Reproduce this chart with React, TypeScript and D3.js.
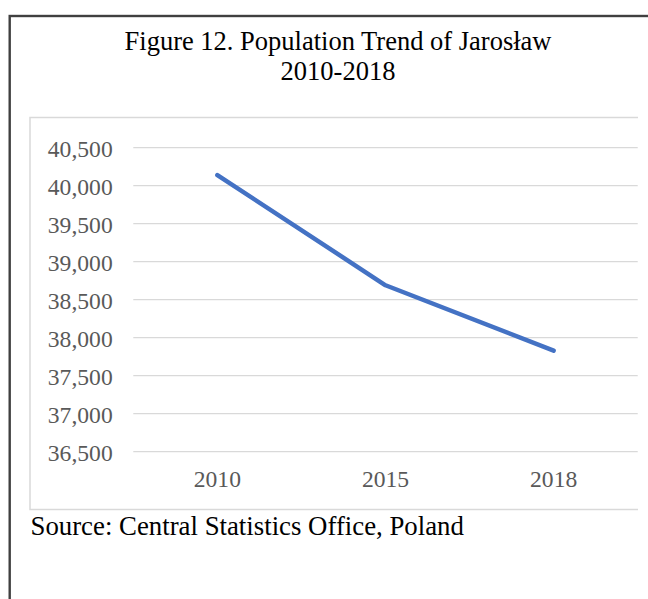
import React from "react";
import * as d3 from "d3";

const years = ["2010", "2015", "2018"];
const population = [40140, 38690, 37830];
const yTicks = [36500, 37000, 37500, 38000, 38500, 39000, 39500, 40000, 40500];
const titleLines = ["Figure 12. Population Trend of Jarosław", "2010-2018"];
const sourceText = "Source: Central Statistics Office, Poland";

const W = 648;
const H = 599;
const FONT = "'Times New Roman', 'Liberation Serif', serif";

export default function App() {
  const plotLeft = 133.3;
  const plotRight = 637.7;
  const x = d3.scaleBand<string>().domain(years).range([plotLeft, plotRight]).padding(0);
  const y = d3.scaleLinear().domain([36500, 40500]).range([451.7, 147.7]);

  const line = d3
    .line<number>()
    .x((_, i) => (x(years[i]) as number) + x.bandwidth() / 2)
    .y((d) => y(d));

  const fmt = d3.format(",");

  return (
    <svg
      width={W}
      height={H}
      style={{ position: "absolute", left: 0, top: 0, display: "block", background: "#fff" }}
    >
      {/* outer frame */}
      <rect x={9.7} y={16} width={800} height={800} fill="none" stroke="#404040" strokeWidth={2.4} />

      {/* title */}
      <text x={338} y={50} textAnchor="middle" fontFamily={FONT} fontSize={26.5} fill="#000">
        {titleLines[0]}
      </text>
      <text x={338} y={80} textAnchor="middle" fontFamily={FONT} fontSize={26.5} fill="#000">
        {titleLines[1]}
      </text>

      {/* inner chart box (left, top, bottom) */}
      <path
        d={`M638,117.5 H30 V509.5 H638`}
        fill="none"
        stroke="#d9d9d9"
        strokeWidth={1.5}
      />

      {/* gridlines */}
      {yTicks.map((t) => (
        <line
          key={"g" + t}
          x1={plotLeft}
          x2={plotRight}
          y1={y(t)}
          y2={y(t)}
          stroke="#d9d9d9"
          strokeWidth={1.3}
        />
      ))}

      {/* y labels */}
      {yTicks.map((t) => (
        <text
          key={"l" + t}
          x={112.7}
          y={y(t) + 9.5}
          textAnchor="end"
          fontFamily={FONT}
          fontSize={23.6}
          fill="#595959"
        >
          {fmt(t)}
        </text>
      ))}

      {/* x labels */}
      {years.map((yr) => (
        <text
          key={"x" + yr}
          x={(x(yr) as number) + x.bandwidth() / 2}
          y={486.7}
          textAnchor="middle"
          fontFamily={FONT}
          fontSize={23.6}
          fill="#595959"
        >
          {yr}
        </text>
      ))}

      {/* data line */}
      <path
        d={line(population) || ""}
        fill="none"
        stroke="#4472C4"
        strokeWidth={4.5}
        strokeLinecap="round"
        strokeLinejoin="round"
      />

      {/* source */}
      <text x={30.5} y={535} fontFamily={FONT} fontSize={26.8} fill="#000">
        {sourceText}
      </text>
    </svg>
  );
}
